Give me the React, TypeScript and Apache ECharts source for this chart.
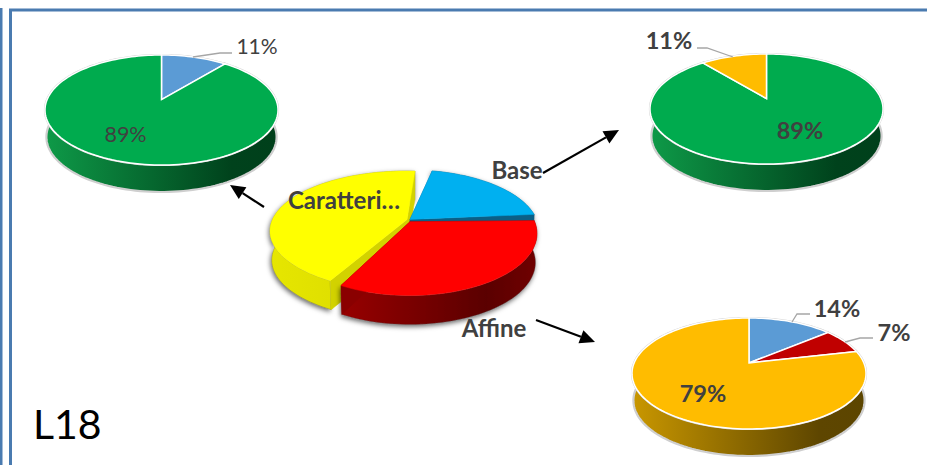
import React, { useEffect, useRef } from "react";
import * as echarts from "echarts";

// ---- values ----
const leftValues = [11, 89];
const rightValues = [89, 11];
const lowerValues = [14, 7, 79];
const centerNames = ["Base", "Affine", "Caratteri…"];
const centerValues = [20, 34, 46];
const cornerLabel = "L18";

// ---- styling / layout ----
const INK = "#404040";
const FONT = "Lato, Carlito, 'Noto Sans', sans-serif";
const PK = -0.19;
const TAPER = 0.988;

type Slice = {
  top: string;
  wall?: string[];
  cut?: string;
  label?: { x: number; y: number; size: number; bold: boolean };
  geo?: { cx: number; cy: number; rx: number; ry: number };
  pad?: [number, number];
};
type Pie = {
  cx: number; cy: number; rx: number; ry: number; depth: number; start: number;
  wall: string[]; exploded: boolean; values: number[]; names?: string[]; slices: Slice[];
};

const greenWall = ["#0E9A48", "#00421C", "#00401B"];
const pies: Pie[] = [
  {
    cx: 161.5, cy: 110, rx: 116.5, ry: 55, depth: 27, start: 0, wall: greenWall, exploded: false, values: leftValues,
    slices: [
      { top: "#5B9BD5", label: { x: 257, y: 45.5, size: 21, bold: false } },
      { top: "#00AB4E", label: { x: 125.5, y: 133.5, size: 21.5, bold: false } },
    ],
  },
  {
    cx: 766.5, cy: 109, rx: 116.5, ry: 55, depth: 27, start: 0, wall: greenWall, exploded: false, values: rightValues,
    slices: [
      { top: "#00AB4E", label: { x: 800, y: 130, size: 23.5, bold: true } },
      { top: "#FFBC00", label: { x: 669, y: 40, size: 23.5, bold: true } },
    ],
  },
  {
    cx: 749, cy: 373.5, rx: 117, ry: 55.5, depth: 27, start: 0, wall: ["#C99700", "#5E4600", "#5C4500"], exploded: false, values: lowerValues,
    slices: [
      { top: "#5B9BD5", label: { x: 837, y: 308, size: 23.5, bold: true } },
      { top: "#C00000", pad: [0, 1.5], label: { x: 894, y: 332, size: 23.5, bold: true } },
      { top: "#FFBC00", pad: [1.5, 0], label: { x: 703, y: 393, size: 23.5, bold: true } },
    ],
  },
  {
    cx: 410, cy: 233, rx: 127, ry: 62, depth: 29, start: 10, wall: ["#A80000", "#5C0000", "#600000"], exploded: true, values: centerValues, names: centerNames,
    slices: [
      {
        top: "#00B0F0", wall: ["#0B5F86", "#0B5F86", "#0B5F86"], cut: "#0B5F86", pad: [2, 3],
        geo: { cx: 410, cy: 231, rx: 129, ry: 61 }, label: { x: 517, y: 169, size: 24, bold: true },
      },
      {
        top: "#FF0000", wall: ["#B00000", "#5A0000", "#700000"], cut: "#8A0000", pad: [7, 3],
        geo: { cx: 410, cy: 233.5, rx: 127, ry: 62 }, label: { x: 494, y: 327, size: 24, bold: true },
      },
      {
        top: "#FFFF00", wall: ["#E6E600", "#D0D000", "#C4C400"], cut: "#D2D200", pad: [4, -6],
        geo: { cx: 407, cy: 231, rx: 137, ry: 60 }, label: { x: 344, y: 199, size: 24, bold: true },
      },
    ],
  },
];

// drawing order of central slices keeps the red wedge in front
const drawOrder = [2, 0, 1];

const leaders = [
  [[193, 57], [220, 53], [232, 53]],
  [[697, 48], [707, 48], [733, 57]],
  [[792, 322], [797, 314], [810, 314]],
  [[845, 342], [860, 338], [873, 338]],
];
const arrows = [
  [[264, 207], [230, 185]],
  [[543, 173], [619, 130]],
  [[536, 320], [595, 342]],
];

function projector(g: { cx: number; cy: number; rx: number; ry: number }) {
  const s = Math.sqrt(1 - PK * PK);
  return (deg: number) => {
    const t = (deg * Math.PI) / 180;
    const u = Math.sin(t);
    const v = -Math.cos(t);
    const d = 1 + PK * v;
    return [g.cx + (g.rx * u * s) / d, g.cy + (g.ry * (v + PK)) / d];
  };
}

function sliceGeometry(p: Pie, i: number) {
  const total = p.values.reduce((a, b) => a + b, 0);
  const before = p.values.slice(0, i).reduce((a, b) => a + b, 0);
  const sl = p.slices[i];
  const pad = sl.pad || [0, 0];
  const a0 = p.start + (before / total) * 360 + pad[0];
  const a1 = p.start + ((before + p.values[i]) / total) * 360 + pad[1];
  const g = sl.geo || p;
  const prj = projector(g);
  const arc: number[][] = [];
  const n = Math.max(2, Math.ceil((a1 - a0) / 2));
  for (let k = 0; k <= n; k++) arc.push(prj(a0 + ((a1 - a0) * k) / n));
  const apex = [g.cx, g.cy + g.ry * PK];
  return { arc, apex, g };
}

const drop = (pts: number[][], d: number, cx: number) =>
  pts.map(([x, y]) => [cx + (x - cx) * TAPER, y + d]);

function wallSeries(p: Pie) {
  return {
    type: "custom",
    coordinateSystem: "none",
    silent: true,
    clip: false,
    z: 2,
    data: p.exploded ? drawOrder.map((i) => p.values[i]) : p.values,
    renderItem: (params: any) => {
      const i = p.exploded ? drawOrder[params.dataIndex] : params.dataIndex;
      const { arc, apex, g } = sliceGeometry(p, i);
      const sl = p.slices[i];
      const w = sl.wall || p.wall;
      const grad = new echarts.graphic.LinearGradient(
        g.cx - g.rx, 0, g.cx + g.rx, 0,
        [{ offset: 0, color: w[0] }, { offset: 0.8, color: w[1] }, { offset: 1, color: w[2] }],
        true as any,
      );
      const shell = [...arc, ...drop(arc, p.depth, g.cx).reverse()];
      const children: any[] = [];
      children.push({
        type: "polygon",
        shape: { points: shell },
        style: p.exploded
          ? { fill: grad, stroke: "rgba(90,90,90,0.35)", lineWidth: 1, shadowBlur: 5, shadowOffsetX: -1, shadowOffsetY: 2, shadowColor: "rgba(0,0,0,0.6)" }
          : { fill: grad, stroke: "#CFCFCF", lineWidth: 2.2 },
      });
      if (p.exploded) {
        const ends = [arc[0], arc[arc.length - 1]];
        ends.forEach((e) => {
          const f = (x: number) => g.cx + (x - g.cx) * TAPER;
          children.push({
            type: "polygon",
            shape: { points: [apex, e, [f(e[0]), e[1] + p.depth], [f(apex[0]), apex[1] + p.depth]] },
            style: { fill: sl.cut, stroke: sl.cut, lineWidth: 0.5 },
          });
        });
      }
      return { type: "group", children };
    },
  };
}

function topSeries(p: Pie) {
  return {
    type: "custom",
    coordinateSystem: "none",
    silent: true,
    clip: false,
    z: 3,
    data: p.exploded ? drawOrder.map((i) => p.values[i]) : p.values,
    renderItem: (params: any) => {
      const i = p.exploded ? drawOrder[params.dataIndex] : params.dataIndex;
      const { arc, apex } = sliceGeometry(p, i);
      const sl = p.slices[i];
      return {
        type: "polygon",
        shape: { points: [apex, ...arc] },
        style: p.exploded
          ? { fill: sl.top, stroke: sl.top, lineWidth: 0.5 }
          : { fill: sl.top, stroke: "#FFFFFF", lineWidth: 1.5 },
      };
    },
  };
}

function labelSeries(p: Pie) {
  return {
    type: "custom",
    coordinateSystem: "none",
    silent: true,
    clip: false,
    z: 6,
    data: p.values,
    renderItem: (params: any, api: any) => {
      const i = params.dataIndex;
      const l = p.slices[i].label!;
      const text = p.names ? p.names[i] : `${api.value(0)}%`;
      return {
        type: "text",
        style: {
          text,
          x: l.x,
          y: l.y,
          textAlign: "center",
          textVerticalAlign: "middle",
          fontFamily: FONT,
          fontSize: l.size,
          fontWeight: l.bold ? "bold" : "normal",
          fill: INK,
        },
      };
    },
  };
}

function arrowGraphics() {
  const out: any[] = [];
  arrows.forEach(([a, b]) => {
    const ang = Math.atan2(b[1] - a[1], b[0] - a[0]);
    const len = 15, half = 7;
    const bx = b[0] - len * Math.cos(ang), by = b[1] - len * Math.sin(ang);
    const nx = -Math.sin(ang), ny = Math.cos(ang);
    out.push({ type: "line", z: 10, shape: { x1: a[0], y1: a[1], x2: bx, y2: by }, style: { stroke: "#000", lineWidth: 2.2 } });
    out.push({
      type: "polygon", z: 10,
      shape: { points: [b, [bx + nx * half, by + ny * half], [bx - nx * half, by - ny * half]] },
      style: { fill: "#000" },
    });
  });
  return out;
}

export default function App() {
  const ref = useRef<HTMLDivElement>(null);
  useEffect(() => {
    const chart = echarts.init(ref.current!, undefined, { renderer: "svg" });
    const frame = "#4A7BB0";
    chart.setOption({
      animation: false,
      backgroundColor: "#FFFFFF",
      series: [
        ...pies.map(wallSeries),
        ...pies.map(topSeries),
        ...pies.map(labelSeries),
      ],
      graphic: [
        { type: "line", shape: { x1: 9, y1: 10, x2: 927, y2: 10 }, style: { stroke: frame, lineWidth: 3 } },
        { type: "line", shape: { x1: 1, y1: 8, x2: 1, y2: 465 }, style: { stroke: frame, lineWidth: 3 } },
        { type: "line", shape: { x1: 10.5, y1: 9, x2: 10.5, y2: 465 }, style: { stroke: frame, lineWidth: 3 } },
        ...leaders.map((pts) => ({
          type: "polyline", z: 8, shape: { points: pts }, style: { stroke: "#A6A6A6", lineWidth: 1.3, fill: "none" },
        })),
        ...arrowGraphics(),
        {
          type: "text", x: 33, y: 423,
          style: { text: cornerLabel, fontFamily: FONT, fontSize: 41, fill: "#000", textVerticalAlign: "middle" },
        },
      ],
    });
    return () => chart.dispose();
  }, []);
  return <div ref={ref} style={{ position: "fixed", left: 0, top: 0, width: 927, height: 465 }} />;
}
